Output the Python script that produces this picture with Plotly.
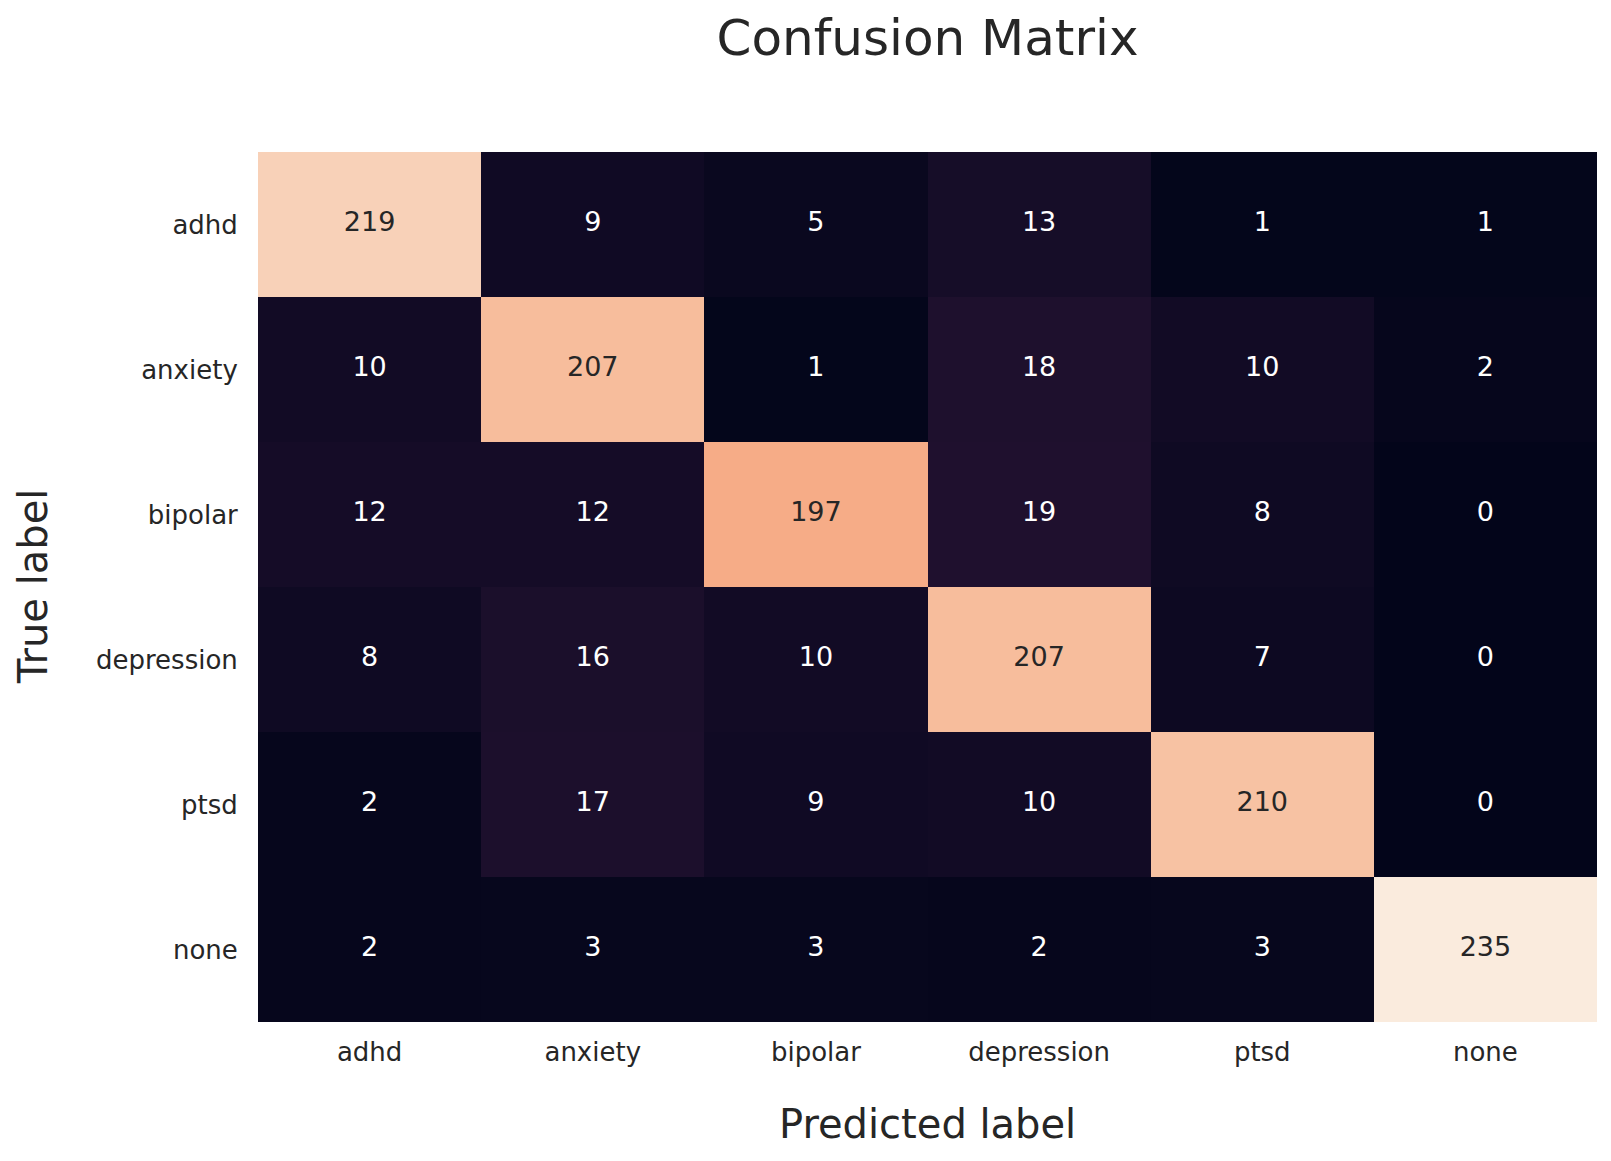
import plotly.graph_objects as go

labels = ["adhd", "anxiety", "bipolar", "depression", "ptsd", "none"]
true_labels = labels
pred_labels = labels
counts = [
    [219, 9, 5, 13, 1, 1],
    [10, 207, 1, 18, 10, 2],
    [12, 12, 197, 19, 8, 0],
    [8, 16, 10, 207, 7, 0],
    [2, 17, 9, 10, 210, 0],
    [2, 3, 3, 2, 3, 235],
]

# seaborn "rocket" colormap (approximation)
rocket_pts = [
    (0.0, (3, 5, 26)),
    (1 / 7, (53, 25, 62)),
    (2 / 7, (112, 31, 87)),
    (3 / 7, (173, 23, 89)),
    (4 / 7, (225, 51, 66)),
    (5 / 7, (243, 118, 81)),
    (6 / 7, (246, 180, 143)),
    (1.0, (250, 235, 221)),
]
colorscale = [[p, "rgb(%d,%d,%d)" % c] for p, c in rocket_pts]


def cmap(t):
    for (p0, c0), (p1, c1) in zip(rocket_pts[:-1], rocket_pts[1:]):
        if p0 <= t <= p1:
            f = (t - p0) / (p1 - p0) if p1 > p0 else 0
            return tuple((a + (b - a) * f) / 255 for a, b in zip(c0, c1))
    return tuple(v / 255 for v in rocket_pts[-1][1])


def luminance(rgb):
    out = []
    for v in rgb:
        out.append(v / 12.92 if v <= 0.03928 else ((v + 0.055) / 1.055) ** 2.4)
    r, g, b = out
    return 0.2126 * r + 0.7152 * g + 0.0722 * b


vmin = min(min(r) for r in counts)
vmax = max(max(r) for r in counts)

xs, ys, txt, cols = [], [], [], []
for i, t in enumerate(true_labels):
    for j, p in enumerate(pred_labels):
        v = counts[i][j]
        lum = luminance(cmap((v - vmin) / (vmax - vmin)))
        xs.append(p)
        ys.append(t)
        txt.append(str(v))
        cols.append("#262626" if lum > 0.408 else "#ffffff")

font = "DejaVu Sans"
W, H = 1603, 1153  # page body has an 8px margin

fig = go.Figure()
fig.add_trace(go.Heatmap(
    z=counts, x=pred_labels, y=true_labels,
    colorscale=colorscale, zmin=vmin, zmax=vmax,
    showscale=False, hoverinfo="skip",
))
fig.add_trace(go.Scatter(
    x=xs, y=ys, text=txt, mode="text",
    textfont=dict(family=font, size=27, color=cols),
    hoverinfo="skip", showlegend=False,
))

fig.update_layout(
    width=W, height=H,
    margin=dict(l=250, r=14, t=144, b=139),
    paper_bgcolor="white", plot_bgcolor="white",
    showlegend=False,
    title=dict(text="Confusion Matrix", x=0.5, xref="paper", xanchor="center",
               y=1 - 29 / H, yref="container", yanchor="middle",
               font=dict(family=font, size=50, color="#262626")),
    xaxis=dict(type="category", showgrid=False, zeroline=False, showline=False,
               ticks="outside", ticklen=7, tickcolor="rgba(0,0,0,0)",
               tickfont=dict(family=font, size=26, color="#262626")),
    yaxis=dict(type="category", autorange="reversed", showgrid=False, zeroline=False,
               showline=False, ticks="outside", ticklen=14, tickcolor="rgba(0,0,0,0)",
               tickfont=dict(family=font, size=26, color="#262626")),
    annotations=[
        dict(text="Predicted label", xref="paper", yref="paper", x=0.5, y=(1022 - 1124) / 870,
             xanchor="center", yanchor="middle", showarrow=False,
             font=dict(family=font, size=40, color="#262626")),
        dict(text="True label", xref="paper", yref="paper", x=(33 - 258) / 1339, y=0.5,
             xanchor="center", yanchor="middle", textangle=-90, showarrow=False,
             font=dict(family=font, size=40, color="#262626")),
    ],
)

fig.write_html("out.html")
